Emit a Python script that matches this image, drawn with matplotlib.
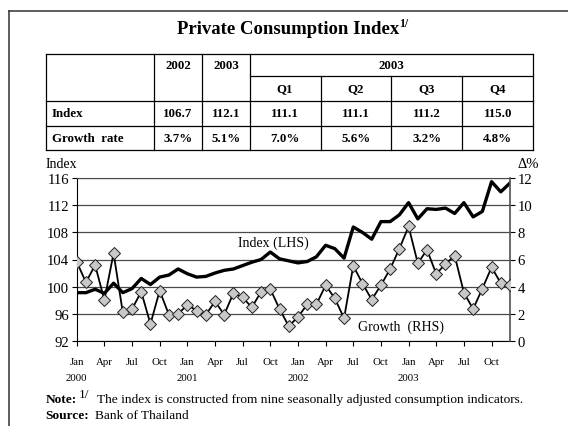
import numpy as np
import matplotlib.pyplot as plt
import matplotlib.transforms as mtransforms
from matplotlib.lines import Line2D

plt.rcParams['font.family'] = ['Liberation Serif', 'DejaVu Serif']

# monthly series, Jan 2000 - Dec 2003
index_lhs = [99.1, 99.1, 99.6, 99.0, 100.5, 99.1, 99.7, 101.2, 100.3, 101.4, 101.7, 102.6,
             101.9, 101.4, 101.5, 102.0, 102.4, 102.6, 103.1, 103.6, 104.0, 105.1, 104.1, 103.8,
             103.5, 103.7, 104.4, 106.1, 105.6, 104.2, 108.8, 108.0, 107.0, 109.6, 109.6, 110.6,
             112.4, 110.0, 111.5, 111.4, 111.6, 110.8, 112.4, 110.3, 111.1, 115.5, 114.0, 115.3]
growth_rhs = [5.84, 4.31, 5.59, 3.0, 6.46, 2.09, 2.34, 3.62, 1.23, 3.70, 1.92, 1.97,
              2.66, 2.22, 1.90, 2.91, 1.92, 3.52, 3.20, 2.46, 3.62, 3.82, 2.34, 1.08,
              1.75, 2.68, 2.68, 4.10, 3.12, 1.66, 5.54, 4.22, 3.04, 4.10, 5.30, 6.80,
              8.44, 5.72, 6.72, 4.93, 5.67, 6.28, 3.55, 2.34, 3.85, 5.42, 4.26, 4.14]
month_labels = ['Jan', 'Apr', 'Jul', 'Oct'] * 4
year_labels = ['2000', '2001', '2002', '2003']

# summary table
tbl_years = ['2002', '2003']
tbl_quarters = ['Q1', 'Q2', 'Q3', 'Q4']
tbl_rows = ['Index', 'Growth  rate']
tbl_index = ['106.7', '112.1', '111.1', '111.1', '111.2', '115.0']
tbl_growth = ['3.7%', '5.1%', '7.0%', '5.6%', '3.2%', '4.8%']

W, H = 568, 427
def fx(x):
    return x / W
def fy(y):
    return 1 - y / H

fig = plt.figure(figsize=(W / 100, H / 100), dpi=100)
fig.patch.set_facecolor('white')

# outer frame (left and top only visible)
fig.add_artist(Line2D([fx(8.7), fx(8.7)], [fy(12), 0], color='#303030', lw=1.1))
fig.add_artist(Line2D([fx(8.7), 1], [fy(12), fy(12)], color='#303030', lw=1.1))

# title with superscript
rend = fig.canvas.get_renderer()
t = fig.text(fx(176.6), fy(34.3), 'Private Consumption Index', fontsize=13.5,
             fontweight='bold', ha='left', va='baseline')
bb = t.get_window_extent(rend)
fig.text(bb.x1 / W + 0.001, fy(27), '1/', fontsize=8.5, fontweight='bold',
         ha='left', va='baseline')

# table grid
xe = [45.7, 153.7, 202.3, 249.5, 320.5, 391.4, 462.4, 533.3]
ye = [55, 76.7, 102.3, 126.7, 151]
lc = 'black'
for y in [55, 102.3, 126.7, 151]:
    fig.add_artist(Line2D([fx(xe[0]), fx(xe[-1])], [fy(y), fy(y)], color=lc, lw=0.9))
fig.add_artist(Line2D([fx(xe[3]), fx(xe[-1])], [fy(ye[1]), fy(ye[1])], color=lc, lw=0.9))
for x in [xe[0], xe[1], xe[2], xe[3], xe[-1]]:
    fig.add_artist(Line2D([fx(x), fx(x)], [fy(55), fy(151)], color=lc, lw=0.9))
for x in xe[4:7]:
    fig.add_artist(Line2D([fx(x), fx(x)], [fy(76.7), fy(151)], color=lc, lw=0.9))

tk = dict(fontsize=9.3, fontweight='bold', ha='center', va='center')
for i, yr in enumerate(tbl_years):
    fig.text(fx((xe[i + 1] + xe[i + 2]) / 2), fy(65.8), yr, **tk)
fig.text(fx((xe[3] + xe[-1]) / 2), fy(65.8), '2003', **tk)
for i, q in enumerate(tbl_quarters):
    fig.text(fx((xe[i + 3] + xe[i + 4]) / 2), fy(89.5), q, **tk)
for r, (lab, vals) in enumerate(zip(tbl_rows, [tbl_index, tbl_growth])):
    yc = (ye[r + 2] + ye[r + 3]) / 2
    fig.text(fx(52), fy(yc), lab, fontsize=9.3, fontweight='bold', ha='left', va='center')
    for i, v in enumerate(vals):
        fig.text(fx((xe[i + 1] + xe[i + 2]) / 2), fy(yc), v, **tk)

# chart
ax = fig.add_axes([fx(76.7), fy(341.7), fx(510) - fx(76.7), fy(179.3) - fy(341.7)])
x = np.arange(len(index_lhs))
ax.plot(x, index_lhs, color='black', lw=2.4, zorder=3)
ax.set_xlim(0, len(index_lhs) - 1)
ax.set_ylim(92, 116)
ax.set_yticks(np.arange(92, 117, 4))
ax.yaxis.grid(True, color='#4a4a4a', lw=0.9)
ax.set_axisbelow(True)
ax.set_xticks(np.arange(0, 48, 3))
ax.set_xticklabels(month_labels, fontsize=7.8)
ax.tick_params(axis='x', direction='out', length=3.5, pad=8, width=0.8)
ax.tick_params(axis='y', direction='out', length=3.5, pad=2, labelsize=10.6, width=0.8)
ax.spines['top'].set_color('#4a4a4a')
ax.spines['right'].set_visible(False)

ax2 = ax.twinx()
ax2.plot(x, growth_rhs, color='black', lw=1.3, marker='D', markersize=5.8,
         markerfacecolor='#c8c8c8', markeredgecolor='#202020', markeredgewidth=0.7, zorder=4)
ax2.set_ylim(0, 12)
ax2.set_yticks(np.arange(0, 13, 2))
ax2.tick_params(axis='y', direction='out', length=3.5, pad=2, labelsize=10.6, width=0.8)
ax2.spines['right'].set_color('#505050')
ax2.spines['right'].set_linewidth(1.2)
for s in ['top', 'left', 'bottom']:
    ax2.spines[s].set_visible(False)

# year labels under the Jan ticks
trans = mtransforms.blended_transform_factory(ax.transData, fig.transFigure)
for i, yr in enumerate(year_labels):
    ax.text(i * 12, fy(379), yr, transform=trans, fontsize=7.8, ha='center', va='center')

fig.text(fx(77), fy(165), 'Index', fontsize=10, ha='right', va='center')
fig.text(fx(528), fy(165), 'Δ%', fontsize=10.5, ha='center', va='center')
ax.text(273.5 / W, fy(243), 'Index (LHS)', transform=fig.transFigure, fontsize=10,
        ha='center', va='center')
ax2.text(400.5 / W, fy(327), 'Growth  (RHS)', transform=fig.transFigure, fontsize=10,
         ha='center', va='center', zorder=5)

# footnotes
fs = 9.6
fig.text(fx(45.3), fy(403), 'Note:', fontsize=fs, fontweight='bold', ha='left', va='baseline')
fig.text(fx(79), fy(398), '1/', fontsize=fs, ha='left', va='baseline')
fig.text(fx(97), fy(403), 'The index is constructed from nine seasonally adjusted consumption indicators.',
         fontsize=fs, ha='left', va='baseline')
fig.text(fx(45.3), fy(419.5), 'Source:', fontsize=fs, fontweight='bold', ha='left', va='baseline')
fig.text(fx(95), fy(419.5), 'Bank of Thailand', fontsize=fs, ha='left', va='baseline')

fig.savefig('out.png', dpi=100)
